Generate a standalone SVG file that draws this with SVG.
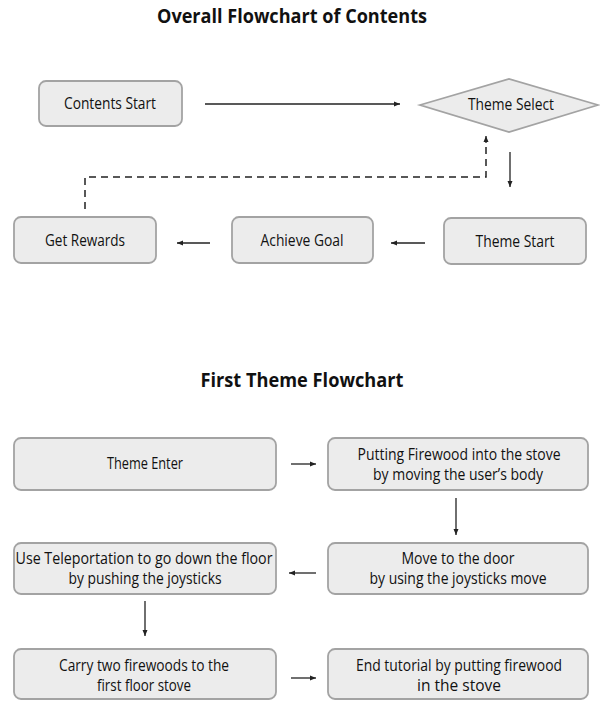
<svg xmlns="http://www.w3.org/2000/svg" width="600" height="701" viewBox="0 0 600 701">
<style>
.box{fill:#ececec;stroke:#a3a3a3;stroke-width:1.8}
.t{font-family:"Open Sans","Noto Sans",sans-serif;font-size:16px;fill:#111;text-anchor:middle}
.h{font-family:"Open Sans","Noto Sans",sans-serif;font-size:19px;font-weight:bold;fill:#111;text-anchor:middle}
.c{fill:none;stroke:#222;stroke-width:1.3}
.d{fill:none;stroke:#222;stroke-width:1.5;stroke-dasharray:7 5}
</style>
<defs>
<marker id="ah" markerUnits="userSpaceOnUse" markerWidth="7" markerHeight="6" refX="6" refY="3" orient="auto">
<path d="M0,0.5 L6,3 L0,5.5 Z" fill="#222"/>
</marker>
</defs>
<rect width="600" height="701" fill="#fff"/>
<text class="h" x="292" y="23" textLength="270" lengthAdjust="spacingAndGlyphs">Overall Flowchart of Contents</text>
<text class="h" x="302" y="387" textLength="203" lengthAdjust="spacingAndGlyphs">First Theme Flowchart</text>

<g id="contents-start"><rect class="box" x="39" y="81" width="143" height="45" rx="7"/><text class="t" x="110" y="109" textLength="92" lengthAdjust="spacingAndGlyphs">Contents Start</text></g>
<g id="theme-select"><polygon class="box" points="420,105 509,79 598,105 509,132"/><text class="t" x="511" y="110" textLength="86" lengthAdjust="spacingAndGlyphs">Theme Select</text></g>
<g id="get-rewards"><rect class="box" x="14" y="217" width="142" height="46" rx="7"/><text class="t" x="85" y="246" textLength="80" lengthAdjust="spacingAndGlyphs">Get Rewards</text></g>
<g id="achieve-goal"><rect class="box" x="232" y="217" width="141" height="46" rx="7"/><text class="t" x="302" y="246" textLength="83" lengthAdjust="spacingAndGlyphs">Achieve Goal</text></g>
<g id="theme-start"><rect class="box" x="444" y="218" width="142" height="46" rx="7"/><text class="t" x="515" y="247" textLength="79" lengthAdjust="spacingAndGlyphs">Theme Start</text></g>

<g id="theme-enter"><rect class="box" x="14" y="438" width="262" height="52" rx="7"/><text class="t" x="145" y="469" textLength="76" lengthAdjust="spacingAndGlyphs">Theme Enter</text></g>
<g id="putting-firewood"><rect class="box" x="328" y="438" width="260" height="52" rx="7"/><text class="t" x="459" y="460" textLength="203" lengthAdjust="spacingAndGlyphs">Putting Firewood into the stove</text><text class="t" x="458" y="480" textLength="170" lengthAdjust="spacingAndGlyphs">by moving the user’s body</text></g>
<g id="use-teleportation"><rect class="box" x="14" y="543" width="262" height="51" rx="7"/><text class="t" x="144" y="564" textLength="257" lengthAdjust="spacingAndGlyphs">Use Teleportation to go down the floor</text><text class="t" x="145" y="584" textLength="153" lengthAdjust="spacingAndGlyphs">by pushing the joysticks</text></g>
<g id="move-to-door"><rect class="box" x="328" y="543" width="260" height="51" rx="7"/><text class="t" x="458" y="564" textLength="113" lengthAdjust="spacingAndGlyphs">Move to the door</text><text class="t" x="458" y="584" textLength="177" lengthAdjust="spacingAndGlyphs">by using the joysticks move</text></g>
<g id="carry-firewoods"><rect class="box" x="14" y="649" width="262" height="50" rx="7"/><text class="t" x="144" y="671" textLength="170" lengthAdjust="spacingAndGlyphs">Carry two firewoods to the</text><text class="t" x="144" y="691" textLength="94" lengthAdjust="spacingAndGlyphs">first floor stove</text></g>
<g id="end-tutorial"><rect class="box" x="328" y="649" width="260" height="50" rx="7"/><text class="t" x="459" y="671" textLength="206" lengthAdjust="spacingAndGlyphs">End tutorial by putting firewood</text><text class="t" x="459" y="691" textLength="84" lengthAdjust="spacingAndGlyphs">in the stove</text></g>

<g id="connectors">
<line class="c" x1="205" y1="104" x2="400" y2="104" marker-end="url(#ah)"/>
<line class="c" x1="510" y1="152" x2="510" y2="187" marker-end="url(#ah)"/>
<line class="c" x1="425" y1="243" x2="391" y2="243" marker-end="url(#ah)"/>
<line class="c" x1="210" y1="243" x2="177" y2="243" marker-end="url(#ah)"/>
<path class="d" d="M85,209 V177 H486 V142"/>
<line class="c" x1="486" y1="143" x2="486" y2="136" marker-end="url(#ah)"/>
<line class="c" x1="291" y1="464" x2="316" y2="464" marker-end="url(#ah)"/>
<line class="c" x1="456" y1="498" x2="456" y2="535" marker-end="url(#ah)"/>
<line class="c" x1="316" y1="573" x2="289" y2="573" marker-end="url(#ah)"/>
<line class="c" x1="145" y1="601" x2="145" y2="636" marker-end="url(#ah)"/>
<line class="c" x1="291" y1="678" x2="316" y2="678" marker-end="url(#ah)"/>
</g>
</svg>
